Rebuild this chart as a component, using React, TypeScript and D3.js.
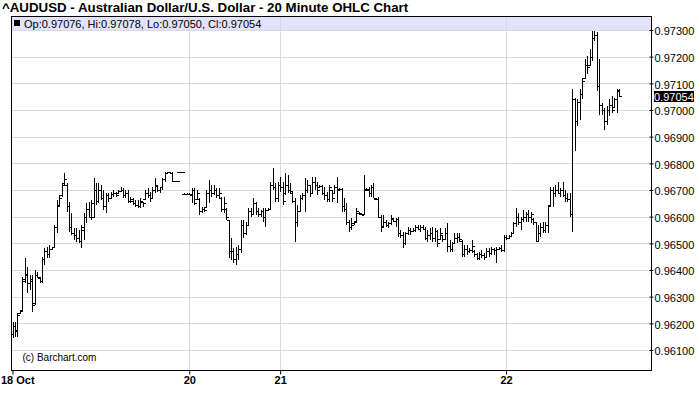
import React, { useRef, useEffect } from 'react';
import { select, scaleLinear, axisRight, axisBottom, range, format } from 'd3';

const title = '^AUDUSD - Australian Dollar/U.S. Dollar - 20 Minute OHLC Chart';
const legendText = 'Op:0.97076, Hi:0.97078, Lo:0.97050, Cl:0.97054';
const lastPrice = 0.97054;

// x tick positions are bar indexes
const dateTicks = [0, 72, 109, 201];
const dateLabels = ['18 Oct', '20', '21', '22'];
const priceTicks = [0.961, 0.962, 0.963, 0.964, 0.965, 0.966, 0.967, 0.968, 0.969, 0.97, 0.971, 0.972, 0.973];

const highs = [
  0.96206, 0.96206, 0.96237, 0.9625, 0.96375, 0.96444, 0.96412, 0.96381, 0.96381, 0.964,
  0.96394, 0.96375, 0.9645, 0.96481, 0.96487, 0.96494, 0.96487, 0.96569, 0.96662, 0.96681,
  0.96725, 0.96762, 0.96725, 0.96656, 0.96612, 0.96556, 0.96556, 0.9655, 0.96569, 0.96612,
  0.9665, 0.96656, 0.96662, 0.96744, 0.96725, 0.96725, 0.96719, 0.967, 0.96687, 0.96687,
  0.96694, 0.967, 0.96694, 0.967, 0.96712, 0.96706, 0.967, 0.967, 0.96675, 0.96669,
  0.96662, 0.96662, 0.96669, 0.96656, 0.967, 0.96706, 0.96694, 0.96712, 0.96744, 0.96719,
  0.96712, 0.96744, 0.96769, 0.96769, 0.96769, 0.96769, 0.96735, 0.96735, 0.96769, 0.96767,
  0.96687, 0.96687, 0.96687, 0.96706, 0.96706, 0.967, 0.96669, 0.96637, 0.96637, 0.967,
  0.96737, 0.96719, 0.96719, 0.96706, 0.96706, 0.96675, 0.96675, 0.96631, 0.96587, 0.96519,
  0.96481, 0.96487, 0.96494, 0.96587, 0.96587, 0.96581, 0.96631, 0.96631, 0.96669, 0.96656,
  0.96631, 0.96625, 0.96631, 0.96631, 0.96631, 0.96731, 0.96781, 0.96725, 0.96731, 0.9675,
  0.96731, 0.96762, 0.96756, 0.96725, 0.96694, 0.96669, 0.96644, 0.96681, 0.96687, 0.96744,
  0.96737, 0.96719, 0.9675, 0.9675, 0.96731, 0.96719, 0.96719, 0.96712, 0.96694, 0.96719,
  0.967, 0.96719, 0.9675, 0.96706, 0.96706, 0.96669, 0.9665, 0.96587, 0.96594, 0.96581,
  0.96631, 0.96619, 0.96612, 0.96756, 0.96706, 0.96712, 0.96719, 0.96725, 0.96669, 0.96675,
  0.96606, 0.96606, 0.96587, 0.96581, 0.96606, 0.96594, 0.96594, 0.966, 0.9655, 0.96544,
  0.96544, 0.96562, 0.96556, 0.96556, 0.96569, 0.96569, 0.96569, 0.96569, 0.96562, 0.9655,
  0.96556, 0.96562, 0.96556, 0.9655, 0.96556, 0.96531, 0.96556, 0.96575, 0.96512, 0.96506,
  0.96537, 0.96537, 0.96537, 0.96512, 0.96494, 0.96494, 0.96481, 0.96512, 0.96475, 0.96462,
  0.96469, 0.96475, 0.96462, 0.96481, 0.96481, 0.96487, 0.96481, 0.96487, 0.96487, 0.96494,
  0.96531, 0.96531, 0.96531, 0.96544, 0.96581, 0.96631, 0.96612, 0.966, 0.96625, 0.96619,
  0.96625, 0.96619, 0.96594, 0.96581, 0.96569, 0.96575, 0.96581, 0.96581, 0.96644, 0.96712,
  0.96712, 0.96719, 0.96731, 0.96706, 0.96731, 0.967, 0.96687, 0.96687, 0.97077, 0.97046,
  0.9704, 0.97077, 0.97121, 0.97191, 0.97203, 0.97228, 0.97297, 0.97297, 0.97291, 0.9719,
  0.97027, 0.97008, 0.97014, 0.9704, 0.97052, 0.97046, 0.97077, 0.97078,
];

const lows = [
  0.96144, 0.9615, 0.9615, 0.96237, 0.96244, 0.9635, 0.96312, 0.96325, 0.96244, 0.96269,
  0.96369, 0.9635, 0.9635, 0.96419, 0.96444, 0.96444, 0.96475, 0.96481, 0.96537, 0.96637,
  0.96675, 0.96719, 0.96619, 0.96544, 0.96531, 0.96512, 0.96506, 0.965, 0.96481, 0.96512,
  0.96575, 0.96594, 0.96587, 0.96594, 0.96644, 0.9665, 0.96662, 0.96625, 0.96612, 0.96656,
  0.96669, 0.96675, 0.96675, 0.96687, 0.96694, 0.96669, 0.96669, 0.9665, 0.9665, 0.96644,
  0.96637, 0.96631, 0.96631, 0.96637, 0.96662, 0.96669, 0.96656, 0.96669, 0.96687, 0.96694,
  0.96687, 0.967, 0.96731, 0.96762, 0.96762, 0.96731, 0.96731, 0.96731, 0.96766, 0.96765,
  0.96681, 0.96684, 0.96681, 0.9665, 0.96644, 0.96662, 0.96606, 0.96612, 0.96619, 0.96631,
  0.9665, 0.96675, 0.96681, 0.96669, 0.96669, 0.96619, 0.96612, 0.96587, 0.96444, 0.96437,
  0.96425, 0.96419, 0.96437, 0.96462, 0.96519, 0.96531, 0.96569, 0.966, 0.96606, 0.96606,
  0.966, 0.966, 0.96581, 0.96562, 0.96625, 0.96625, 0.967, 0.96656, 0.96656, 0.96694,
  0.96644, 0.96681, 0.96687, 0.96687, 0.9665, 0.96506, 0.96562, 0.96619, 0.96662, 0.96619,
  0.96687, 0.96675, 0.96687, 0.967, 0.96681, 0.96706, 0.96681, 0.96662, 0.96656, 0.96656,
  0.96656, 0.96687, 0.9665, 0.967, 0.96619, 0.96619, 0.96569, 0.96544, 0.9655, 0.96569,
  0.96581, 0.96612, 0.96606, 0.96606, 0.967, 0.96675, 0.96675, 0.96669, 0.96662, 0.96594,
  0.96544, 0.96562, 0.96562, 0.96556, 0.96569, 0.96581, 0.96562, 0.96525, 0.96519, 0.96481,
  0.96494, 0.96531, 0.96531, 0.96544, 0.96544, 0.9655, 0.96544, 0.9655, 0.96512, 0.96506,
  0.96512, 0.96506, 0.96506, 0.96487, 0.96512, 0.96506, 0.96512, 0.96469, 0.96469, 0.96469,
  0.965, 0.965, 0.96506, 0.9645, 0.9645, 0.96456, 0.96462, 0.96462, 0.9645, 0.96437,
  0.96437, 0.96444, 0.96437, 0.96444, 0.9645, 0.96456, 0.96456, 0.96425, 0.96475, 0.96469,
  0.96469, 0.96512, 0.96519, 0.96525, 0.96537, 0.96562, 0.96569, 0.9655, 0.96581, 0.96581,
  0.96581, 0.96575, 0.96569, 0.96506, 0.96506, 0.96525, 0.96537, 0.96537, 0.96537, 0.96644,
  0.96637, 0.96675, 0.96687, 0.96675, 0.96675, 0.96656, 0.96656, 0.966, 0.96543, 0.96845,
  0.96939, 0.96964, 0.9704, 0.97115, 0.97134, 0.97165, 0.97184, 0.9726, 0.97071, 0.96983,
  0.96983, 0.96926, 0.96945, 0.96977, 0.96989, 0.97008, 0.96989, 0.9705,
];

const opens = [
  0.9616, 0.9619, 0.9617, 0.9624, 0.9625, 0.96365, 0.96385, 0.9635, 0.96365, 0.96275,
  0.9638, 0.9637, 0.9636, 0.9644, 0.9647, 0.9646, 0.9648, 0.96485, 0.9656, 0.96645,
  0.9668, 0.96725, 0.9672, 0.9664, 0.9656, 0.9654, 0.9653, 0.9652, 0.9651, 0.9655,
  0.966, 0.9663, 0.966, 0.966, 0.967, 0.9666, 0.967, 0.9667, 0.9664, 0.9668,
  0.9667, 0.96685, 0.9669, 0.9669, 0.96695, 0.967, 0.9668, 0.9669, 0.9666, 0.9666,
  0.9665, 0.96645, 0.9664, 0.96655, 0.96665, 0.9669, 0.9668, 0.9667, 0.967, 0.96715,
  0.967, 0.9671, 0.9674, 0.96765, 0.96768, 0.96765, 0.96735, 0.96733, 0.96768, 0.96766,
  0.96685, 0.96685, 0.96685, 0.96685, 0.967, 0.96665, 0.96665, 0.9662, 0.9663, 0.96635,
  0.9669, 0.967, 0.9669, 0.967, 0.9668, 0.9667, 0.9663, 0.9663, 0.96587, 0.9647,
  0.9647, 0.9644, 0.9646, 0.9648, 0.9657, 0.9654, 0.9657, 0.9662, 0.9661, 0.9665,
  0.9662, 0.9661, 0.9662, 0.966, 0.96625, 0.9663, 0.9672, 0.9671, 0.9667, 0.9672,
  0.9671, 0.9669, 0.9672, 0.967, 0.9669, 0.9666, 0.9658, 0.9662, 0.9667, 0.9668,
  0.967, 0.9672, 0.9669, 0.9673, 0.9672, 0.9671, 0.96715, 0.9669, 0.9668, 0.96665,
  0.967, 0.9669, 0.9671, 0.96702, 0.96704, 0.9664, 0.9663, 0.9658, 0.9656, 0.96575,
  0.96585, 0.96615, 0.9661, 0.9661, 0.96703, 0.967, 0.9669, 0.9671, 0.96668, 0.96665,
  0.966, 0.96565, 0.9658, 0.9657, 0.96575, 0.9659, 0.96585, 0.9659, 0.9654, 0.9653,
  0.965, 0.9654, 0.9655, 0.96545, 0.9655, 0.9656, 0.96555, 0.9656, 0.96555, 0.9652,
  0.9653, 0.9654, 0.9652, 0.96545, 0.96515, 0.9653, 0.96515, 0.9654, 0.9649, 0.9648,
  0.965, 0.9652, 0.96525, 0.9651, 0.9646, 0.9648, 0.9647, 0.96475, 0.9647, 0.9646,
  0.96445, 0.9646, 0.96455, 0.9645, 0.9647, 0.96465, 0.9648, 0.96475, 0.9648, 0.96483,
  0.96475, 0.96525, 0.9652, 0.96528, 0.9654, 0.96575, 0.966, 0.9658, 0.9659, 0.966,
  0.9661, 0.966, 0.9659, 0.9658, 0.9651, 0.9654, 0.9656, 0.9655, 0.9657, 0.96645,
  0.967, 0.9669, 0.967, 0.9669, 0.967, 0.9668, 0.9667, 0.96665, 0.9661, 0.9704,
  0.9696, 0.9703, 0.9706, 0.9712, 0.9717, 0.9717, 0.972, 0.9727, 0.9728, 0.9709,
  0.9702, 0.97, 0.9696, 0.97, 0.9702, 0.9701, 0.9704, 0.97076,
];

const closes = [
  0.9619, 0.96175, 0.9623, 0.96245, 0.9636, 0.9638, 0.9635, 0.9636, 0.9627, 0.9638,
  0.96375, 0.9636, 0.9644, 0.9647, 0.9646, 0.9648, 0.96485, 0.9656, 0.9664, 0.9667,
  0.9672, 0.9674, 0.9664, 0.9656, 0.9654, 0.9653, 0.9652, 0.9651, 0.9656, 0.966,
  0.9663, 0.966, 0.9665, 0.967, 0.9666, 0.967, 0.9667, 0.9664, 0.9668, 0.9667,
  0.96685, 0.9669, 0.9668, 0.96695, 0.967, 0.9668, 0.9669, 0.9666, 0.96665, 0.9665,
  0.96645, 0.9664, 0.9666, 0.9665, 0.9669, 0.9668, 0.9667, 0.967, 0.9672, 0.967,
  0.9671, 0.9674, 0.96765, 0.96768, 0.96765, 0.96735, 0.96733, 0.96734, 0.96767, 0.96766,
  0.96684, 0.96686, 0.96683, 0.967, 0.9665, 0.9669, 0.9662, 0.9663, 0.96625, 0.9669,
  0.967, 0.9669, 0.967, 0.9668, 0.9669, 0.9663, 0.9665, 0.966, 0.9647, 0.9647,
  0.9644, 0.9646, 0.9648, 0.9657, 0.9654, 0.9657, 0.9662, 0.9661, 0.9665, 0.9662,
  0.9661, 0.9662, 0.966, 0.96625, 0.9663, 0.9672, 0.9671, 0.9667, 0.9672, 0.9671,
  0.9666, 0.9672, 0.967, 0.96695, 0.9666, 0.9658, 0.9662, 0.9667, 0.9668, 0.967,
  0.9672, 0.9669, 0.9673, 0.9672, 0.967, 0.96715, 0.9669, 0.9668, 0.96665, 0.9671,
  0.9667, 0.9671, 0.967, 0.96704, 0.9664, 0.9663, 0.9658, 0.9656, 0.9657, 0.9658,
  0.9662, 0.96614, 0.96608, 0.967, 0.96702, 0.9669, 0.9671, 0.9667, 0.96665, 0.966,
  0.9656, 0.9658, 0.9657, 0.96575, 0.96595, 0.96585, 0.9659, 0.9654, 0.9653, 0.965,
  0.9654, 0.9655, 0.96545, 0.9655, 0.9656, 0.96555, 0.9656, 0.96555, 0.9652, 0.9653,
  0.9654, 0.9652, 0.96545, 0.965, 0.9654, 0.96515, 0.9654, 0.9649, 0.9648, 0.965,
  0.9652, 0.96525, 0.96515, 0.9646, 0.9648, 0.9647, 0.96475, 0.9649, 0.9646, 0.96445,
  0.9646, 0.96455, 0.9645, 0.9647, 0.96465, 0.9648, 0.96475, 0.9648, 0.96483, 0.96475,
  0.96525, 0.9652, 0.96528, 0.9654, 0.96575, 0.966, 0.9658, 0.9659, 0.966, 0.9661,
  0.966, 0.9661, 0.9658, 0.9651, 0.9654, 0.9656, 0.9655, 0.9657, 0.9664, 0.967,
  0.9669, 0.967, 0.9669, 0.967, 0.9668, 0.9667, 0.96665, 0.9661, 0.9704, 0.9696,
  0.9703, 0.9706, 0.9711, 0.9717, 0.9716, 0.972, 0.9727, 0.9728, 0.9709, 0.9702,
  0.97, 0.9696, 0.97, 0.9702, 0.97, 0.9704, 0.9707, 0.97054,
];

const FONT = "'Liberation Sans', Arial, Helvetica, sans-serif";

const App = () => {
  const svgRef = useRef(null);

  useEffect(() => {
    const svg = select(svgRef.current);
    svg.selectAll('*').remove();

    const left = 11;
    const right = 651;
    const top = 16;
    const bottom = 370;

    const xScale = scaleLinear().domain([0, highs.length - 1]).range([12.5, 619]);
    const yScale = scaleLinear().domain([0.961, 0.973]).range([350, 30]);

    svg.append('rect').attr('width', 700).attr('height', 411).attr('fill', '#fff');

    // title
    svg
      .append('text')
      .attr('x', 2)
      .attr('y', 12)
      .attr('font-family', FONT)
      .attr('font-size', 13.3)
      .attr('font-weight', 'bold')
      .attr('fill', '#000')
      .text(title);

    // legend band
    svg
      .append('rect')
      .attr('x', left)
      .attr('y', top)
      .attr('width', right - left)
      .attr('height', 15)
      .attr('fill', '#e2e2fb');

    // horizontal grid
    svg
      .append('g')
      .selectAll('line')
      .data(priceTicks)
      .join('line')
      .attr('x1', left)
      .attr('x2', right)
      .attr('y1', (d) => Math.round(yScale(d)) + 0.5)
      .attr('y2', (d) => Math.round(yScale(d)) + 0.5)
      .attr('stroke', '#d9d9d9')
      .attr('shape-rendering', 'crispEdges');

    // vertical grid at date ticks
    svg
      .append('g')
      .selectAll('line')
      .data(dateTicks.slice(1))
      .join('line')
      .attr('x1', (d) => Math.round(xScale(d)) + 0.5)
      .attr('x2', (d) => Math.round(xScale(d)) + 0.5)
      .attr('y1', top)
      .attr('y2', bottom)
      .attr('stroke', '#d9d9d9')
      .attr('shape-rendering', 'crispEdges');

    // legend content
    svg.append('rect').attr('x', 14).attr('y', 20).attr('width', 6).attr('height', 6).attr('fill', '#000');
    svg
      .append('text')
      .attr('x', 24)
      .attr('y', 28)
      .attr('font-family', FONT)
      .attr('font-size', 11)
      .attr('fill', '#000')
      .text(legendText);

    svg
      .append('text')
      .attr('x', 22.5)
      .attr('y', 361)
      .attr('font-family', FONT)
      .attr('font-size', 10)
      .attr('fill', '#000')
      .text('(c) Barchart.com');

    // OHLC bars
    const bars = range(highs.length).map((i) => ({
      i,
      o: opens[i],
      h: highs[i],
      l: lows[i],
      c: closes[i],
    }));

    const barPath = (d) => {
      const cx = Math.round(xScale(d.i)) + 0.5;
      const yh = Math.round(yScale(d.h));
      const yl = Math.max(Math.round(yScale(d.l)), yh + 1);
      const yo = Math.round(yScale(d.o)) + 0.5;
      const yc = Math.round(yScale(d.c)) + 0.5;
      return `M${cx},${yh}V${yl}M${cx - 2.5},${yo}H${cx}M${cx},${yc}H${cx + 2.5}`;
    };

    svg
      .append('g')
      .selectAll('path')
      .data(bars)
      .join('path')
      .attr('d', barPath)
      .attr('fill', 'none')
      .attr('stroke', '#000')
      .attr('stroke-width', 1)
      .attr('shape-rendering', 'crispEdges');

    // frame
    svg
      .append('path')
      .attr('d', `M${left + 0.5},${bottom}V${top + 0.5}H${right + 0.5}`)
      .attr('fill', 'none')
      .attr('stroke', '#000')
      .attr('shape-rendering', 'crispEdges');

    // y axis on the right
    const yAxis = axisRight(yScale)
      .tickValues(priceTicks)
      .tickSize(3)
      .tickPadding(0)
      // @ts-ignore
      .tickFormat(format('.5f'));

    const yg = svg.append('g').attr('transform', `translate(${right + 0.5},0)`).call(yAxis);
    yg.select('.domain').attr('d', `M0,${top}V${bottom + 0.5}`).attr('stroke', '#000');
    yg.selectAll('.tick line').attr('x1', -2).attr('x2', 2).attr('stroke', '#000');
    yg.selectAll('.tick text')
      .attr('x', 3)
      .attr('dy', '0.45em')
      .attr('font-family', FONT)
      .attr('font-size', 11)
      .attr('fill', '#000');
    yg.attr('font-family', null).attr('font-size', null);

    // x axis
    const xAxis = axisBottom(xScale)
      .tickValues(dateTicks)
      .tickSize(4)
      .tickPadding(2)
      // @ts-ignore
      .tickFormat((d, i) => dateLabels[i]);

    const xg = svg.append('g').attr('transform', `translate(0,${bottom + 0.5})`).call(xAxis);
    xg.select('.domain').attr('d', `M${left},0H${right + 1}`).attr('stroke', '#000');
    xg.selectAll('.tick line').attr('stroke', '#000');
    xg.selectAll('.tick text')
      .attr('font-family', FONT)
      .attr('font-size', 11)
      .attr('font-weight', 'bold')
      .attr('fill', '#000');
    // first label sits at the left edge; keep it inside the picture
    xg.selectAll('.tick text')
      .filter((d, i) => i === 0)
      .attr('text-anchor', 'start')
      .attr('x', -12);
    xg.attr('font-family', null).attr('font-size', null);

    // last price box
    const ly = Math.round(yScale(lastPrice));
    svg.append('rect').attr('x', 654).attr('y', ly - 5).attr('width', 40).attr('height', 11).attr('fill', '#000');
    svg
      .append('text')
      .attr('x', 654)
      .attr('y', ly + 5)
      .attr('font-family', FONT)
      .attr('font-size', 11)
      .attr('fill', '#fff')
      .text(format('.5f')(lastPrice));
  }, []);

  return (
    <svg
      ref={svgRef}
      width={700}
      height={411}
      style={{ position: 'absolute', left: 0, top: 0, display: 'block' }}
    />
  );
};

export default App;
